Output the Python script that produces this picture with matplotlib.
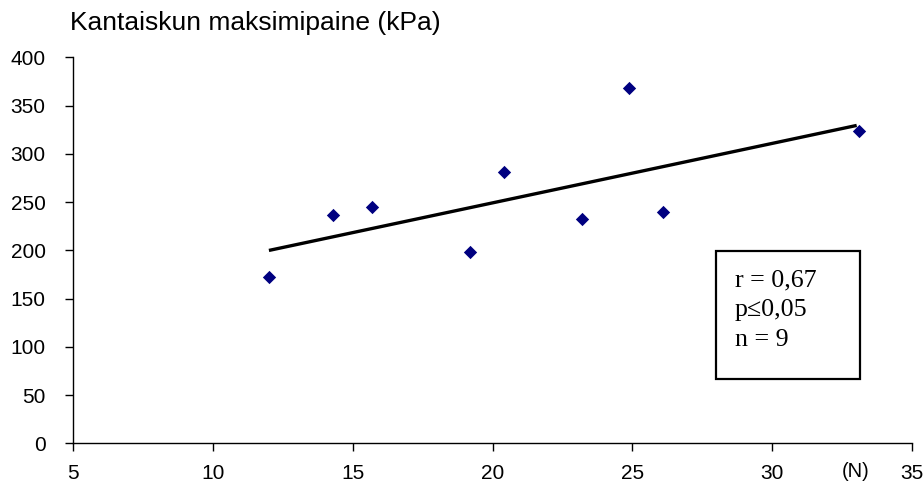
import numpy as np
import matplotlib
matplotlib.use("Agg")
import matplotlib.pyplot as plt

force_n = [12.0, 14.3, 15.7, 19.2, 20.4, 23.2, 24.9, 26.1, 33.1]
pressure_kpa = [172, 237, 245, 198, 281, 232, 368, 240, 324]
x_ticks = [5, 10, 15, 20, 25, 30, 35]
y_ticks = [0, 50, 100, 150, 200, 250, 300, 350, 400]
title = "Kantaiskun maksimipaine (kPa)"
stats_lines = ["r = 0,67", "p≤0,05", "n = 9"]

plt.rcParams['font.family'] = ['Liberation Sans', 'DejaVu Sans']

fig = plt.figure(figsize=(9.23, 4.88), dpi=100)
ax = fig.add_axes([0.0794, 0.0916, 0.9084, 0.791])

ax.scatter(force_n, pressure_kpa, marker='D', s=46, color='#000080', zorder=3, linewidths=0)
slope, intercept = np.polyfit(force_n, pressure_kpa, 1)
xl = np.array([min(force_n), 33.03])
ax.plot(xl, slope * xl + intercept, color='black', lw=2.4, solid_capstyle='butt', zorder=2)

ax.set_xlim(5, 35)
ax.set_ylim(0, 400)
ax.set_xticks(x_ticks)
ax.set_yticks(y_ticks)
ax.spines['top'].set_visible(False)
ax.spines['right'].set_visible(False)
for s in ('left', 'bottom'):
    ax.spines[s].set_linewidth(1.0)
ax.tick_params(axis='both', direction='out', length=6, width=1.0, labelsize=15)
ax.tick_params(axis='x', pad=9)
ax.tick_params(axis='y', pad=14)

fig.text(70 / 923, 1 - 30 / 488, title, fontsize=19, ha='left', va='baseline')
fig.text(856 / 923, 1 - 477 / 488, "(N)", fontsize=14.5, ha='center', va='baseline')

fig.patches.append(matplotlib.patches.Rectangle((715.5 / 923, 1 - 378.5 / 488), (859.5 - 715.5) / 923,
                                                (378.5 - 251) / 488, transform=fig.transFigure,
                                                fill=False, edgecolor='black', lw=1.6))
for line, base in zip(stats_lines, [286, 316, 346]):
    fig.text(735 / 923, 1 - base / 488, line, fontsize=18.7,
             family=['Liberation Serif', 'DejaVu Serif'], ha='left', va='baseline')

fig.savefig("out.png", dpi=100)
